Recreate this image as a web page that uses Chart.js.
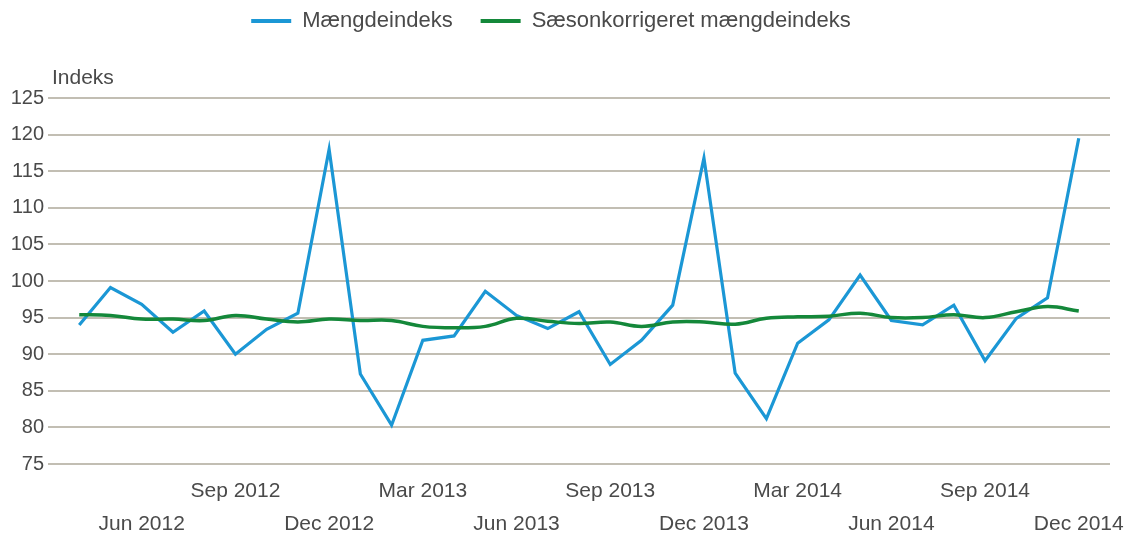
<!DOCTYPE html>
<html>
<head>
<meta charset="utf-8">
<script src="https://cdn.jsdelivr.net/npm/chart.js@4"></script>
<style>
  html, body { margin:0; padding:0; background:#fff; }
  #wrap { width:1127px; height:536px; }
</style>
</head>
<body>
<div id="wrap"><canvas id="chart" width="1127" height="536"></canvas></div>
<script>
const months = [
  "Apr 2012","Maj 2012","Jun 2012","Jul 2012","Aug 2012","Sep 2012","Okt 2012","Nov 2012","Dec 2012",
  "Jan 2013","Feb 2013","Mar 2013","Apr 2013","Maj 2013","Jun 2013","Jul 2013","Aug 2013","Sep 2013","Okt 2013","Nov 2013","Dec 2013",
  "Jan 2014","Feb 2014","Mar 2014","Apr 2014","Maj 2014","Jun 2014","Jul 2014","Aug 2014","Sep 2014","Okt 2014","Nov 2014","Dec 2014"
]

// quarter labels shown on the axis; upper row and lower row alternate
const upperRow = ["Sep 2012","Mar 2013","Sep 2013","Mar 2014","Sep 2014"]
const lowerRow = ["Jun 2012","Dec 2012","Jun 2013","Dec 2013","Jun 2014","Dec 2014"]

const maengde = [
  94.0, 99.1, 96.8, 93.0, 95.9, 90.0, 93.4, 95.6, 118.0,
  87.3, 80.3, 91.9, 92.5, 98.6, 95.3, 93.5, 95.8, 88.6, 91.9, 96.7, 116.8,
  87.4, 81.2, 91.5, 94.7, 100.8, 94.6, 94.0, 96.7, 89.1, 94.9, 97.7, 119.5
]

const saeson = [
  95.4, 95.3, 94.8, 94.8, 94.6, 95.3, 94.8, 94.4, 94.8,
  94.6, 94.6, 93.8, 93.6, 93.8, 94.9, 94.5, 94.2, 94.4, 93.8, 94.4, 94.4,
  94.1, 94.9, 95.1, 95.2, 95.6, 95.0, 95.0, 95.4, 95.0, 95.8, 96.5, 95.9
]

const yTicks = [75, 80, 85, 90, 95, 100, 105, 110, 115, 120, 125]

const textColor = "#4a4a4a"
const font = "'Liberation Sans', Arial, sans-serif"

const toPoints = arr => arr.map((v, i) => ({ x: i, y: v }))

const layoutTweaks = {
  id: "layoutTweaks",
  afterInit(chart){
    const fit = chart.legend.fit
    chart.legend.fit = function(){
      fit.call(this)
      this.height = 98
    }
  },
  afterLayout(chart){
    const lg = chart.legend
    lg.left -= 4
    lg.right -= 4
    lg.top = -18
  },
  afterDraw(chart){
    const ctx = chart.ctx
    ctx.save()
    ctx.font = "21px " + font
    ctx.fillStyle = textColor
    ctx.textBaseline = "middle"
    ctx.textAlign = "left"
    ctx.fillText("Indeks", chart.chartArea.left + 4, chart.chartArea.top - 20)
    ctx.restore()
  }
}

new Chart(document.getElementById("chart"), {
  type: "line",
  data: {
    datasets: [
      {
        label: "Mængdeindeks",
        data: toPoints(maengde),
        borderColor: "#1b97d5",
        backgroundColor: "#1b97d5",
        borderWidth: 3.2,
        pointRadius: 0,
        tension: 0,
        order: 1
      },
      {
        label: "Sæsonkorrigeret mængdeindeks",
        data: toPoints(saeson),
        borderColor: "#14883a",
        backgroundColor: "#14883a",
        borderWidth: 3.5,
        pointRadius: 0,
        tension: 0.4,
        order: 0
      }
    ]
  },
  options: {
    responsive: false,
    animation: false,
    layout: { padding: { left: 0, right: 17, top: 0, bottom: 0 } },
    plugins: {
      tooltip: { enabled: false },
      legend: {
        position: "top",
        align: "center",
        labels: {
          boxWidth: 40,
          boxHeight: 4,
          padding: 28,
          color: textColor,
          font: { family: font, size: 22 },
          sort: (a, b) => a.datasetIndex - b.datasetIndex,
          generateLabels: chart =>
            Chart.defaults.plugins.legend.labels.generateLabels(chart).map(l => ({ ...l, lineWidth: 0 }))
        }
      }
    },
    scales: {
      x: {
        type: "linear",
        min: -1,
        max: months.length,
        grid: { display: false, drawTicks: false },
        border: { display: false },
        afterFit: scale => { scale.height = 72 },
        ticks: {
          stepSize: 1,
          autoSkip: false,
          maxRotation: 0,
          padding: 10,
          color: textColor,
          font: { family: font, size: 21, lineHeight: 1.6 },
          callback: v => {
            const m = months[v]
            if (upperRow.includes(m)) return [m]
            if (lowerRow.includes(m)) return ["", m]
            return ""
          }
        }
      },
      y: {
        min: yTicks[0],
        max: yTicks[yTicks.length - 1],
        afterFit: scale => { scale.width = 48 },
        afterBuildTicks: scale => { scale.ticks = yTicks.map(v => ({ value: v })) },
        grid: { color: "#c2beb3", lineWidth: 2, drawTicks: false },
        border: { display: false },
        ticks: {
          padding: 4,
          color: textColor,
          font: { family: font, size: 20 }
        }
      }
    }
  },
  plugins: [layoutTweaks]
})
</script>
</body>
</html>
